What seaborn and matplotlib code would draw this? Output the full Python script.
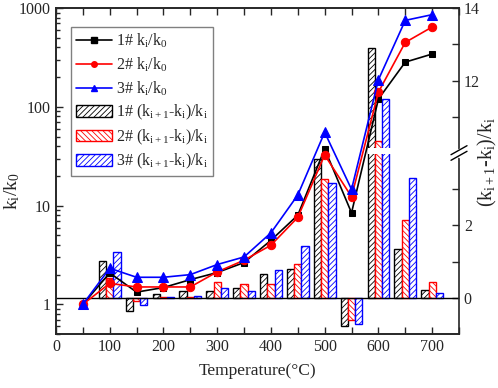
import numpy as np
import matplotlib
matplotlib.use('Agg')
import matplotlib.pyplot as plt
import seaborn as sns
from matplotlib.ticker import FixedLocator, LogLocator, FuncFormatter, MultipleLocator, NullFormatter
from matplotlib.patches import Patch, Rectangle
from matplotlib.lines import Line2D

# k_i/k_0 for the three samples (left, log axis)
temps = [50, 100, 150, 200, 250, 300, 350, 400, 450, 500, 550, 600, 650, 700]
k1 = [1.0, 2.08, 1.33, 1.48, 1.78, 2.1, 2.65, 4.45, 8.0, 37.5, 8.45, 120, 284, 343]
k2 = [1.0, 1.63, 1.5, 1.5, 1.5, 2.13, 2.8, 3.97, 7.6, 32.6, 12.3, 141, 450, 644]
k3 = [1.0, 2.32, 1.88, 1.88, 2.0, 2.53, 3.02, 5.3, 12.8, 55.3, 14.6, 188, 752, 859]

# (k_{i+1}-k_i)/k_i for the three samples (right, broken axis)
bar_temps = [100, 150, 200, 250, 300, 350, 400, 450, 500, 550, 600, 650, 700]
b1 = [1.02, -0.36, 0.10, 0.19, 0.19, 0.27, 0.66, 0.79, 3.84, -0.79, 12.91, 1.35, 0.21]
b2 = [0.55, -0.08, 0.02, 0.01, 0.44, 0.37, 0.37, 0.93, 3.28, -0.62, 10.33, 2.16, 0.45]
b3 = [1.28, -0.19, 0.02, 0.05, 0.26, 0.19, 0.77, 1.42, 3.18, -0.73, 11.50, 3.32, 0.14]

line_labels = [r'1# $\mathregular{k_i/k_0}$', r'2# $\mathregular{k_i/k_0}$', r'3# $\mathregular{k_i/k_0}$']
bar_labels = [r'%d# $\mathregular{(k_{i+1}}$-$\mathregular{k_i)/k_i}$' % n for n in (1, 2, 3)]

# axis break: values between 4 and 10 are cut out
def brk(v):
    return v if v <= 4 else v - 6

sns.set_style('ticks')
plt.rcParams['font.family'] = ['Liberation Serif', 'DejaVu Serif']
plt.rcParams['mathtext.fontset'] = 'custom'
plt.rcParams['mathtext.rm'] = 'Liberation Serif'
plt.rcParams['mathtext.it'] = 'Liberation Serif:italic'
plt.rcParams['font.size'] = 11
plt.rcParams['hatch.linewidth'] = 0.6
plt.rcParams['axes.linewidth'] = 1.2

fig = plt.figure(figsize=(4.98, 3.88), dpi=100)
ax = fig.add_axes([0.1124, 0.139, 0.8093, 0.840])
ax2 = ax.twinx()
ax.set_zorder(ax2.get_zorder() + 1)
ax.patch.set_visible(False)

colors = ['black', 'red', 'blue']
hatches = ['//////', '\\\\\\\\\\\\', '//////']
width = 13.5
offsets = [-width, 0, width]

# bars
for vals, off, col, h in zip([b1, b2, b3], offsets, colors, hatches):
    ax2.bar(np.array(bar_temps) + off, [brk(v) for v in vals], width=width,
            facecolor='white', edgecolor=col, hatch=h, linewidth=1.0)
ax2.axhline(0, color='black', lw=1.0)
ax2.add_patch(Rectangle((580, 3.97), 45, 0.16, facecolor='white', edgecolor='none', zorder=5))

# lines
markers = ['s', 'o', '^']
msizes = [5, 6, 6.5]
for vals, col, m, ms in zip([k1, k2, k3], colors, markers, msizes):
    sns.lineplot(x=temps, y=vals, ax=ax, color=col, marker=m, markersize=ms,
                 markeredgecolor=col, linewidth=1.2)

ax.set_yscale('log')
ax.set_ylim(0.5, 1000)
ax.set_xlim(0, 750)
ax.xaxis.set_major_locator(MultipleLocator(100))
ax.xaxis.set_minor_locator(MultipleLocator(50))
ax.yaxis.set_major_locator(LogLocator(base=10))
ax.yaxis.set_minor_locator(LogLocator(base=10, subs=np.arange(2, 10)))
ax.yaxis.set_major_formatter(FuncFormatter(lambda v, p: '%g' % v))
ax.yaxis.set_minor_formatter(NullFormatter())
ax.tick_params(which='both', direction='in', top=True, right=False, width=1, labelsize=11.5)
ax.tick_params(which='major', length=5)
ax.tick_params(which='minor', length=3)
ax.tick_params(axis='x', which='minor', length=5)
ax.spines['right'].set_visible(False)

ax2.set_ylim(-1, 8)
ax2.set_yticks([0, 2, 6, 8])
ax2.set_yticklabels(['0', '2', '12', '14'])
ax2.yaxis.set_minor_locator(FixedLocator([1, 3, 5, 7]))
ax2.tick_params(which='both', direction='in', width=1, labelsize=11.5)
ax2.tick_params(which='major', length=5)
ax2.tick_params(which='minor', length=5)

ax.set_xlabel('Temperature(°C)', fontsize=12.5, labelpad=6)
ax.set_ylabel(r'$\mathregular{k_i/k_0}$', fontsize=14)
ax.yaxis.set_label_coords(-0.085, 0.44)
fig.text(487 / 498, 1 - 162 / 388, r'$\mathregular{(k_{i+1}}$-$\mathregular{k_i)/k_i}$',
         rotation=90, ha='center', va='center', fontsize=14.5)

# break mark on right spine
yb = 5 / 9
dx, dy = 8 / 403, 4.5 / 326
g = 2.8 / 326
ax2.plot([1, 1], [yb - g, yb + g], transform=ax2.transAxes, color='white', lw=2.5, clip_on=False, zorder=10)
for s in (-g, g):
    ax2.plot([1 - dx, 1 + dx], [yb + s - dy, yb + s + dy], transform=ax2.transAxes,
             color='black', lw=1, clip_on=False, zorder=11)

handles = [Line2D([], [], color=c, marker=m, markersize=4, linewidth=1.2) for c, m in zip(colors, markers)]
handles += [Patch(facecolor='white', edgecolor=c, hatch=h, linewidth=1.0) for c, h in zip(colors, hatches)]
leg = ax.legend(handles, line_labels + bar_labels, loc='upper left', bbox_to_anchor=(0.017, 0.966),
                frameon=True, fancybox=False, edgecolor='gray', framealpha=1,
                handlelength=2.3, handleheight=0.75, labelspacing=0.33, borderpad=0.3,
                handletextpad=0.25, fontsize=11.5)
leg.get_frame().set_linewidth(1.0)

fig.savefig('out.png', dpi=100)
